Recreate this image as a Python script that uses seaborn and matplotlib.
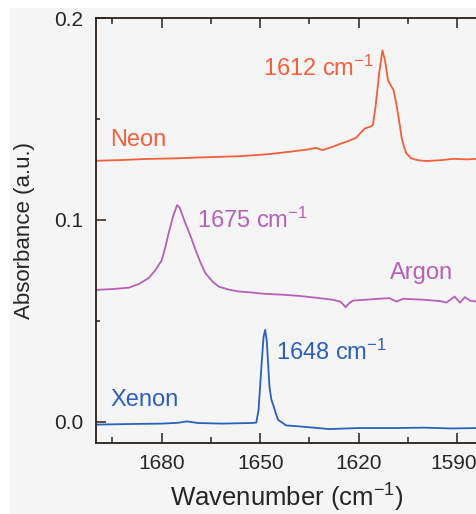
import numpy as np
import pandas as pd
import matplotlib
matplotlib.use("Agg")
import matplotlib.pyplot as plt
import matplotlib.transforms as mtransforms
import seaborn as sns
from matplotlib.patches import Rectangle
from matplotlib.ticker import MultipleLocator

# Spectra (wavenumber in cm-1, absorbance in a.u.)
neon_wn = [1700, 1692, 1685, 1676, 1668, 1662, 1656, 1648, 1641, 1636, 1633, 1631, 1628,
           1625.8, 1623, 1620.8, 1618.2, 1616.5, 1615.7, 1614.9, 1613.8, 1612.8, 1612.0,
           1611.1, 1610.2, 1609.4, 1608.4, 1607.6, 1607.0, 1606.2, 1605.5, 1604.0, 1602,
           1599.4, 1595, 1591.3, 1587, 1584]
neon_abs = [0.1293, 0.1297, 0.1302, 0.1305, 0.1310, 0.1313, 0.1316, 0.1325, 0.1338, 0.1348,
            0.1357, 0.1346, 0.1362, 0.1376, 0.1392, 0.1407, 0.1453, 0.1462, 0.1470, 0.1560,
            0.1725, 0.1840, 0.1790, 0.1692, 0.1665, 0.1643, 0.1560, 0.1480, 0.1412, 0.1360,
            0.1330, 0.1305, 0.1296, 0.1292, 0.1296, 0.1303, 0.1300, 0.1303]

argon_wn = [1700, 1695, 1690, 1687, 1684, 1682, 1680, 1678.9, 1677.9, 1676.5, 1675.3, 1674.5,
            1673.6, 1672.8, 1671.2, 1669.7, 1668.2, 1666.7, 1664.5, 1662.6, 1659.5, 1656.5,
            1652, 1648.4, 1643, 1638, 1633, 1627.9, 1625.5, 1624, 1622.8, 1621.8, 1618, 1614,
            1610.6, 1608.5, 1606.5, 1600, 1595, 1593.3, 1590.8, 1589.2, 1587.7, 1586, 1584]
argon_abs = [0.0654, 0.0658, 0.0665, 0.0683, 0.0712, 0.0750, 0.0800, 0.0865, 0.0934, 0.1020,
             0.1074, 0.1060, 0.1020, 0.0984, 0.0920, 0.0852, 0.0790, 0.0737, 0.0695, 0.0670,
             0.0655, 0.0646, 0.0640, 0.0634, 0.0630, 0.0624, 0.0615, 0.0605, 0.0595, 0.0568,
             0.0590, 0.0601, 0.0605, 0.0610, 0.0613, 0.0596, 0.0610, 0.0605, 0.0598, 0.0591,
             0.0621, 0.0591, 0.0618, 0.0600, 0.0596]

xenon_wn = [1700, 1690, 1680, 1675, 1672.3, 1669, 1661.6, 1656, 1652.4, 1651.2, 1650.5, 1649.7,
            1649, 1648.5, 1648, 1647.2, 1646.6, 1645.9, 1645.2, 1644.6, 1642.1, 1638, 1629,
            1620, 1609, 1600, 1592, 1584]
xenon_abs = [-0.0013, -0.0010, -0.0008, -0.0004, 0.0003, -0.0005, -0.0008, -0.0006, -0.0005,
             -0.0003, 0.0060, 0.0259, 0.0420, 0.0456, 0.0400, 0.0176, 0.0110, 0.0077, 0.0040,
             0.0011, -0.0017, -0.0022, -0.0035, -0.0030, -0.0030, -0.0028, -0.0032, -0.0030]

gases = ["Neon", "Argon", "Xenon"]
colors = {"Neon": "#f2603c", "Argon": "#b660b8", "Xenon": "#2c5fbe"}

# etiquetas: (texto, x, y)
labels = [("Neon", 1695.7, 0.1395), ("Argon", 1610.6, 0.074), ("Xenon", 1695.7, 0.011)]
peaks = [("Neon", "1612 cm$^{-1}$", 1649.3, 0.175),
         ("Argon", "1675 cm$^{-1}$", 1669.2, 0.100),
         ("Xenon", "1648 cm$^{-1}$", 1645.1, 0.0343)]

df = pd.concat([
    pd.DataFrame({"wn": neon_wn, "abs": neon_abs, "gas": "Neon"}),
    pd.DataFrame({"wn": argon_wn, "abs": argon_abs, "gas": "Argon"}),
    pd.DataFrame({"wn": xenon_wn, "abs": xenon_abs, "gas": "Xenon"}),
], ignore_index=True)

sns.set_style("ticks")
plt.rcParams["font.family"] = ["Liberation Sans", "DejaVu Sans"]
plt.rcParams["mathtext.fontset"] = "custom"
plt.rcParams["mathtext.rm"] = "Liberation Sans"
plt.rcParams["mathtext.it"] = "Liberation Sans:italic"

fig = plt.figure(figsize=(4.77, 5.14), dpi=100, facecolor="white")
fig.patches.append(Rectangle((10 / 477, 0), 1, 1 - 8 / 514, transform=fig.transFigure,
                             facecolor="#f5f5f5", edgecolor="none", zorder=-10))
ax = fig.add_axes([96 / 477, 1 - 443 / 514, 1 - 96 / 477, (443 - 18) / 514])
ax.set_facecolor("#f5f5f5")

sns.lineplot(data=df, x="wn", y="abs", hue="gas", palette=colors, hue_order=gases,
             estimator=None, sort=False, legend=False, lw=1.3, ax=ax)

for gas, x, y in labels:
    ax.text(x, y, gas, color=colors[gas], fontsize=17, ha="left", va="center")
for gas, txt, x, y in peaks:
    ax.text(x, y, txt, color=colors[gas], fontsize=17, ha="left", va="center")

ax.set_xlim(1700, 1584)
ax.set_ylim(-0.0104, 0.2)
ax.set_xticks([1680, 1650, 1620, 1590])
ax.xaxis.set_minor_locator(MultipleLocator(15))
ax.set_yticks([0.0, 0.1, 0.2])
ax.set_yticklabels(["0.0", "0.1", "0.2"])
ax.yaxis.set_minor_locator(MultipleLocator(0.05))

ax.tick_params(which="both", direction="in", top=True, right=False, labelsize=15,
               color="#2a2018", width=1.1)
ax.tick_params(axis="x", which="major", length=7.5, pad=8)
ax.tick_params(axis="x", which="minor", length=4.5)
ax.tick_params(axis="y", which="major", length=7.5, pad=9)
ax.tick_params(axis="y", which="minor", length=3)

# el último rótulo toca el borde derecho: se corre un poco a la izquierda
last = ax.get_xticklabels()[-1]
last.set_transform(last.get_transform() +
                   mtransforms.ScaledTranslation(-4 / 100, 0, fig.dpi_scale_trans))

for side in ["left", "bottom", "top"]:
    ax.spines[side].set_color("#2a2018")
    ax.spines[side].set_linewidth(1.3)
ax.spines["right"].set_visible(False)

ax.set_xlabel("Wavenumber (cm$^{-1}$)", fontsize=18.5, labelpad=6)
ax.set_ylabel("Absorbance (a.u.)", fontsize=16, labelpad=14)

fig.savefig("out.png", dpi=100, facecolor=fig.get_facecolor())
